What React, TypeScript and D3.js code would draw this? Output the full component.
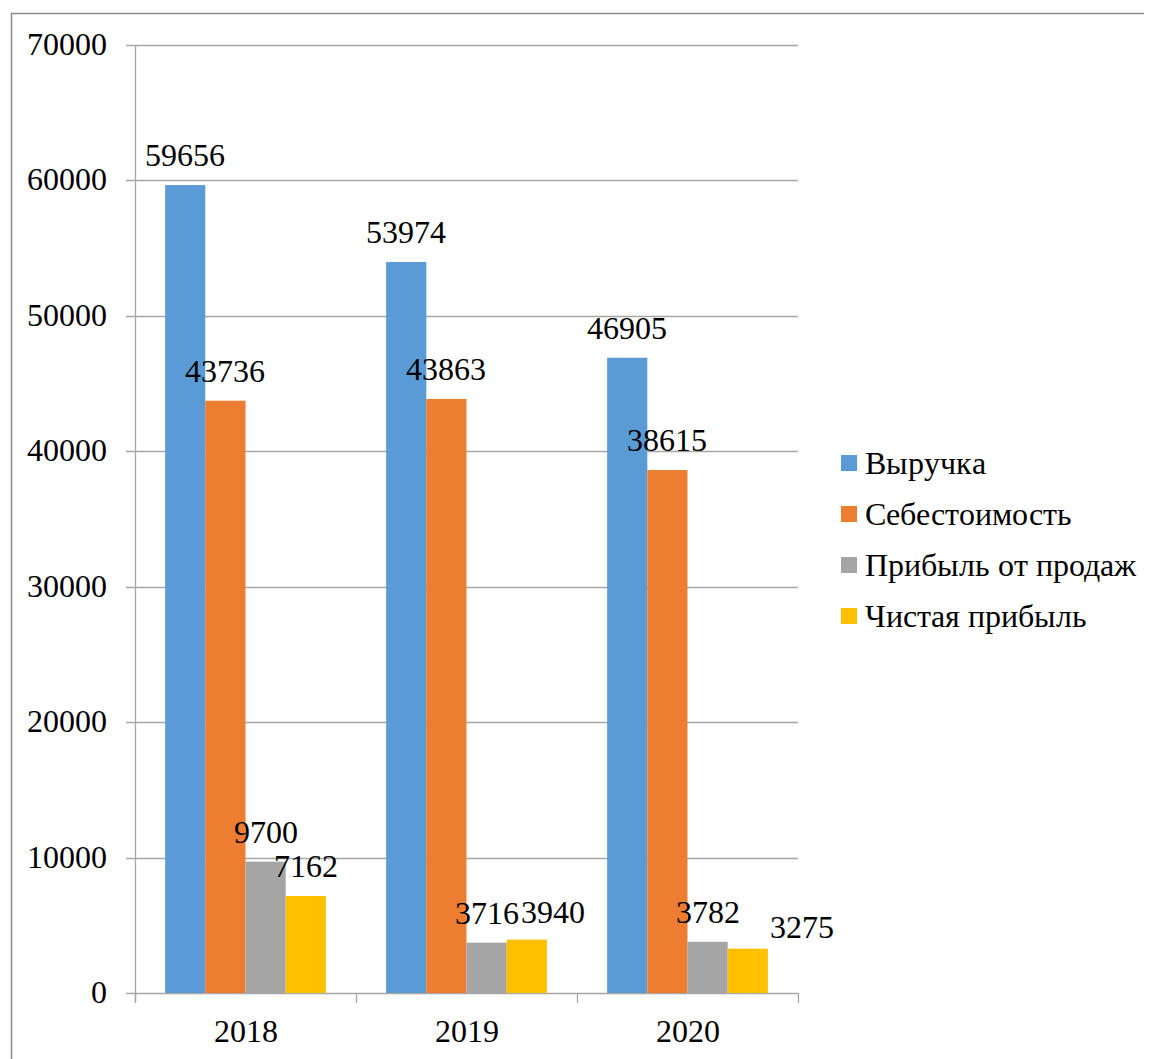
import React from "react";
import * as d3 from "d3";

const years = ["2018", "2019", "2020"];
const seriesNames = ["Выручка", "Себестоимость", "Прибыль от продаж", "Чистая прибыль"];
const revenue = [59656, 53974, 46905];
const cost = [43736, 43863, 38615];
const salesProfit = [9700, 3716, 3782];
const netProfit = [7162, 3940, 3275];
const colors = ["#5B9BD5", "#ED7D31", "#A5A5A5", "#FFC000"];
const yTicks = [0, 10000, 20000, 30000, 40000, 50000, 60000, 70000];

// label nudges (dx, dy in px) for overlapping labels: key = series-yearIndex
const labelNudge: Record<string, [number, number]> = {
  "3-1": [26, 2],
  "3-2": [54, 8],
};

const css = `
@font-face { font-family: "ChartSerif"; src: local("Liberation Serif"), local("LiberationSerif"), local("Liberation Serif Regular"), local("Tinos"), local("Times New Roman"); }
.t { font-family: "ChartSerif", "Liberation Serif", "Times New Roman", serif; font-size: 32px; fill: #000; }
`;

export default function App() {
  const W = 1152, H = 1059;
  const values = [revenue, cost, salesProfit, netProfit];
  const y = d3.scaleLinear().domain([0, 70000]).range([993, 45]);
  const x = d3.scaleBand().domain(years).range([135, 798]).padding(0);
  const xs = d3.scaleBand().domain(seriesNames).range([0, x.bandwidth()]).paddingInner(0).paddingOuter(0.75);
  const catEdges = [...years.map((yr) => x(yr)!), 798];
  const grid = "#a6a6a6";

  return (
    <div style={{ margin: "-8px 0 0 -8px", width: W, height: H }}>
      <style>{css}</style>
      <svg width={W} height={H}>
        <rect x={11.5} y={13.5} width={1300} height={1200} fill="none" stroke="#8c8c8c" strokeWidth={1.5} />
        {yTicks.map((t) => (
          <g key={t}>
            <line x1={126} x2={798} y1={Math.round(y(t)) + 0.5} y2={Math.round(y(t)) + 0.5} stroke={grid} strokeWidth={1.3} />
            <text className="t" x={107} y={y(t) + 10} textAnchor="end">{t}</text>
          </g>
        ))}
        <line x1={135.5} x2={135.5} y1={45} y2={1003} stroke={grid} strokeWidth={1.3} />
        {catEdges.map((cx, i) => (
          <line key={i} x1={Math.round(cx) + 0.5} x2={Math.round(cx) + 0.5} y1={993} y2={1003} stroke={grid} strokeWidth={1.3} />
        ))}
        {years.map((yr, yi) => (
          <g key={yr}>
            {seriesNames.map((s, si) => {
              const v = values[si][yi];
              return (
                <rect key={s} x={x(yr)! + xs(s)!} y={y(v)} width={xs.bandwidth()} height={y(0) - y(v)} fill={colors[si]} />
              );
            })}
          </g>
        ))}
        {years.map((yr, yi) => (
          <g key={yr + "l"}>
            {seriesNames.map((s, si) => {
              const v = values[si][yi];
              const cx = x(yr)! + xs(s)! + xs.bandwidth() / 2;
              const [dx, dy] = labelNudge[`${si}-${yi}`] || [0, 0];
              return (
                <text key={s} className="t" x={cx + dx} y={y(v) - 19 + dy} textAnchor="middle">{v}</text>
              );
            })}
          </g>
        ))}
        {years.map((yr) => (
          <text key={yr + "x"} className="t" x={x(yr)! + x.bandwidth() / 2} y={1042} textAnchor="middle">{yr}</text>
        ))}
        {seriesNames.map((s, i) => (
          <g key={s} transform={`translate(841, ${463 + i * 51})`}>
            <rect x={0} y={-8} width={16} height={16} fill={colors[i]} />
            <text className="t" x={24} y={10.5}>{s}</text>
          </g>
        ))}
      </svg>
    </div>
  );
}
